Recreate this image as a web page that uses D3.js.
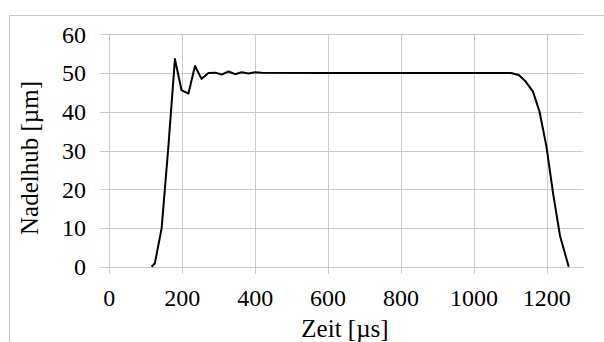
<!DOCTYPE html>
<html>
<head>
<meta charset="utf-8">
<script src="https://cdn.jsdelivr.net/npm/d3@7"></script>
<style>
html,body{margin:0;padding:0;background:#fff;}
svg{display:block;}
svg text{font-family:"Liberation Serif","Times New Roman",Tinos,serif;}
</style>
</head>
<body>
<svg id="chart" width="604" height="342"></svg>
<script>
const timeUs = [116,125,143.5,162,180,198,217,235,253,272,290,308,327,345,363,382,400,418,600,800,1000,1102,1123,1142,1162,1180,1199,1217,1236,1260];
const liftUm = [0,0.9,9.9,31,53.6,45.6,44.7,51.8,48.5,50.0,50.1,49.6,50.4,49.7,50.2,49.9,50.2,50.1,50,50,50,50,49.5,47.8,45.2,40,31,19,8,0];
const xTicks = [0,200,400,600,800,1000,1200];
const yTicks = [0,10,20,30,40,50,60];
const xTitle = "Zeit [µs]";
const yTitle = "Nadelhub [µm]";

const svg = d3.select("#chart");
const x = d3.scaleLinear().domain([0,1300]).range([109.3,583.3]);
const y = d3.scaleLinear().domain([0,60]).range([266.7,34.3]);
const gridColor = "#cbcbcb";

// outer frame
svg.append("path")
  .attr("d","M9.5,342 L9.5,15.5 L604,15.5")
  .attr("fill","none").attr("stroke","#c8c8c8").attr("stroke-width",1);

// horizontal gridlines
svg.append("g").selectAll("line").data(yTicks).join("line")
  .attr("x1", x(0)-9).attr("x2", x(1300))
  .attr("y1", d => Math.round(y(d))+0.5).attr("y2", d => Math.round(y(d))+0.5)
  .attr("stroke", gridColor).attr("stroke-width",1);

// vertical gridlines (with tick extension)
svg.append("g").selectAll("line").data(xTicks).join("line")
  .attr("x1", d => Math.round(x(d))+0.5).attr("x2", d => Math.round(x(d))+0.5)
  .attr("y1", y(60)).attr("y2", y(0)+7)
  .attr("stroke", gridColor).attr("stroke-width",1);

// y tick labels
svg.append("g").selectAll("text").data(yTicks).join("text")
  .attr("x", 86).attr("y", d => y(d))
  .attr("dy","0.35em").attr("text-anchor","end")
  .attr("font-size", 24).attr("fill","#000")
  .text(d => d);

// x tick labels
svg.append("g").selectAll("text").data(xTicks).join("text")
  .attr("x", d => x(d)).attr("y", 306)
  .attr("text-anchor","middle")
  .attr("font-size", 24).attr("fill","#000")
  .text(d => d);

// axis titles
svg.append("text")
  .attr("x", 345).attr("y", 337)
  .attr("text-anchor","middle")
  .attr("font-size", 25).attr("fill","#000")
  .text(xTitle);

svg.append("text")
  .attr("transform","translate(38,158) rotate(-90)")
  .attr("text-anchor","middle")
  .attr("font-size", 25).attr("fill","#000")
  .text(yTitle);

// data line
const line = d3.line().x((d,i) => x(timeUs[i])).y(d => y(d));
svg.append("path")
  .datum(liftUm)
  .attr("d", line)
  .attr("fill","none").attr("stroke","#000").attr("stroke-width",2)
  .attr("stroke-linejoin","round");
</script>
</body>
</html>
